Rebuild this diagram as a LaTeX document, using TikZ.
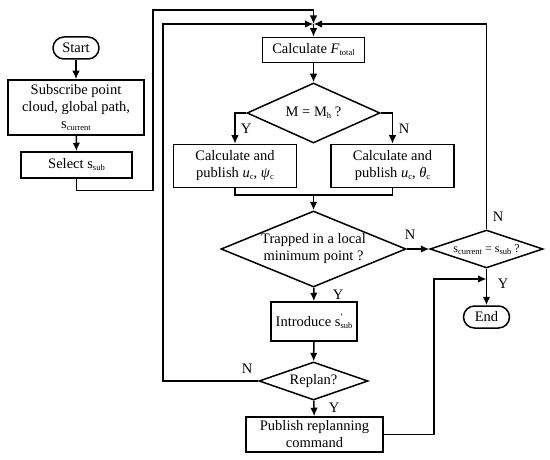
\documentclass[tikz,border=0pt]{standalone}
\usepackage{fontspec}
\setmainfont{Liberation Serif}
\usetikzlibrary{arrows.meta,shapes.geometric,calc}
\newcommand\sbs[1]{\raisebox{-0.3ex}{\fontsize{8.5}{9}\selectfont #1}}
\newcommand\zw[1]{\makebox[0pt]{\begin{tabular}{@{}c@{}}#1\end{tabular}}}
\begin{document}
\begin{tikzpicture}[x=1pt,y=-1pt,
  font=\fontsize{14.5}{17}\selectfont, line width=1.5pt,
  box/.style={draw, rectangle, inner sep=0pt, align=center},
  term/.style={draw, rectangle, rounded corners=11pt, inner sep=0pt, minimum width=46pt, minimum height=22pt},
  dia/.style={draw, diamond, inner sep=0pt},
  arr/.style={-{Latex[length=8.5pt,width=7.5pt]}},
  lbl/.style={inner sep=0pt}]
\fill[white] (0,0) rectangle (550,460);
\useasboundingbox (0,0) rectangle (550,460);

\node[term] (start) at (76,48) {Start};
\node[box, minimum width=136pt, minimum height=55pt] (sub) at (76,107.5) {Subscribe point\\cloud, global path,\\s\sbs{current}};
\node[box, minimum width=111pt, minimum height=26pt] (sel) at (76.5,165) {Select s\sbs{sub}};

\coordinate (J) at (313.5,24);
\node[box, minimum width=102pt, minimum height=25pt] (cf) at (313.5,50) {Calculate \textit{F}\sbs{total}};
\node[dia, minimum width=133pt, minimum height=60pt] (dm) at (313.5,113) {\zw{M = M\sbs{h} ?}};
\node[box, minimum width=123pt, minimum height=43pt] (cl) at (235,166) {Calculate and\\publish \textit{u}\sbs{c}, \textit{ψ}\sbs{c}};
\node[box, minimum width=123pt, minimum height=43pt] (cr) at (392.5,166) {Calculate and\\publish \textit{u}\sbs{c}, \textit{θ}\sbs{c}};
\coordinate (M1) at (313.5,195);
\node[dia, minimum width=185pt, minimum height=76pt] (tr) at (313.5,249) {\zw{Trapped in a local\\minimum point ?}};
\node[dia, minimum width=113pt, minimum height=38pt] (cs) at (486.5,249) {\zw{\fontsize{12}{14}\selectfont s\sbs{current} = s\sbs{sub} ?}};
\node[term] (end) at (486.5,317) {End};
\coordinate (J2) at (486.5,279);
\node[box, minimum width=86pt, minimum height=39pt] (in) at (314,321.5) {Introduce s\rlap{\raisebox{0.9ex}{\fontsize{10}{10}\selectfont ′}}\sbs{sub}};
\node[dia, minimum width=109pt, minimum height=38pt] (rp) at (313.5,381) {\zw{Replan?}};
\node[box, minimum width=137pt, minimum height=35pt] (pub) at (314.5,434.5) {Publish replanning\\command};

\draw[arr] (start) -- (sub);
\draw[arr] (sub) -- (sel);
\draw[arr] (sel.south) -- ++(0,12) -| (153,10) -| (J);
\draw[arr] (rp.west) -- ++(-95.5,0) |- (J);
\draw[arr] (cs.north) |- (J);
\draw[arr] (J) -- (cf);
\draw[arr] (cf) -- (dm);
\draw[arr] (dm.west) -| (cl.north);
\draw[arr] (dm.east) -| (cr.north);
\draw (cl.south) |- (M1) -| (cr.south);
\draw[arr] (M1) -- (tr);
\draw[arr] (tr.east) -- (cs.west);
\draw[arr] (tr) -- (in);
\draw[arr] (in) -- (rp);
\draw[arr] (rp) -- (pub);
\draw[arr] (cs) -- (end);
\draw[arr] (pub.east) -- ++(50,0) |- (J2);

\node[lbl] (y1) at (246,129) {Y};
\node[lbl] (n1) at (404,129) {N};
\node[lbl] (n2) at (410,235) {N};
\node[lbl] (n3) at (498,217) {N};
\node[lbl] (y2) at (503,284) {Y};
\node[lbl] (y3) at (338,295) {Y};
\node[lbl] (n4) at (247,369) {N};
\node[lbl] (y4) at (334,408) {Y};
\end{tikzpicture}
\end{document}
